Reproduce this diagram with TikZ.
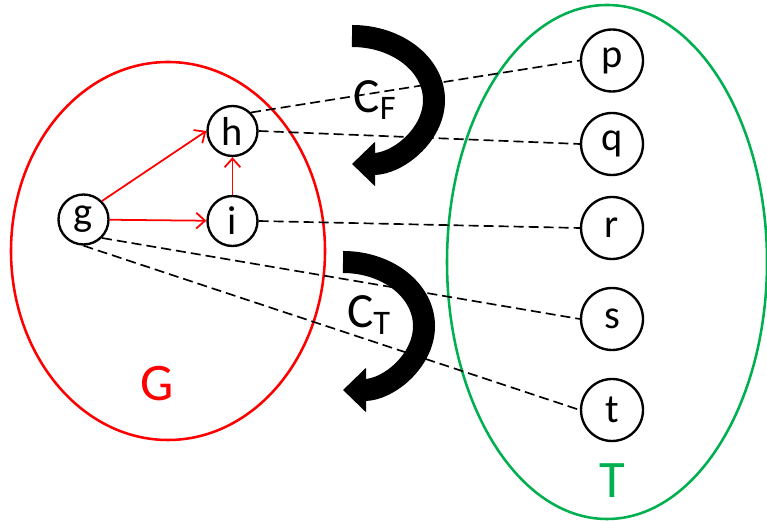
\documentclass[tikz,border=0pt]{standalone}
\usepackage{fontspec}
\setmainfont{Carlito}
\usetikzlibrary{arrows.meta}

\begin{document}
\begin{tikzpicture}[
    vtx/.style={circle, draw, line width=1.35pt, inner sep=0pt, minimum size=1.0cm, font=\fontsize{23}{23}\selectfont},
    bigvtx/.style={vtx, minimum size=1.24cm},
    dashline/.style={dashed, dash pattern=on 0.2cm off 0.1cm, line width=0.95pt},
    redarrow/.style={myRed, line width=1pt, -{Straight Barb[length=5pt,width=9pt]}},
    bigarrow/.style={line width=0.44cm, -{Triangle[length=0.46cm,width=0.86cm]}},
    setlabel/.style={font=\fontsize{30}{30}\selectfont}
]
% Colors define
\definecolor{myRed}{HTML}{FF0000}
\definecolor{myGreen}{HTML}{00B050}

\useasboundingbox (0,0) rectangle (15.34,10.4);

% The two sets
\draw[myRed, line width=1.45pt] (3.36,5.38) ellipse [x radius=3.14, y radius=3.78];
\draw[myGreen, line width=1.45pt] (12.14,5.16) ellipse [x radius=3.2, y radius=5.14];
\node[setlabel, myRed] (Glab) at (3.14,2.72) {G};
\node[setlabel, myGreen] (Tlab) at (12.24,0.78) {T};

% Vertices of G
\node[vtx] (g) at (1.67,6.01) {g};
\node[vtx] (h) at (4.65,7.78) {h};
\node[vtx] (i) at (4.65,5.98) {i};

% Vertices of T
\node[bigvtx] (p) at (12.24,9.19) {p};
\node[bigvtx] (q) at (12.24,7.52) {q};
\node[bigvtx] (r) at (12.24,5.84) {r};
\node[bigvtx] (s) at (12.24,4.02) {s};
\node[bigvtx] (t) at (12.24,2.20) {t};

% Edges of G
\draw[redarrow] (g.north east) -- (h.west);
\draw[redarrow] (g) -- (i);
\draw[redarrow] (i) -- (h);

% Mapping lines
\draw[dashline] (h.north east) -- (p.west);
\draw[dashline] (h.east) -- (q.west);
\draw[dashline] (i.east) -- (r.west);
\draw[dashline] (g.south east) -- (s.west);
\draw[dashline] (g.south) -- (t.west);

% Big curved arrows
\draw[bigarrow] (7.04,9.68) arc[start angle=90, end angle=-90, x radius=1.64, y radius=1.28];
\draw[bigarrow] (6.86,5.16) arc[start angle=90, end angle=-90, x radius=1.62, y radius=1.28];
\node[font=\fontsize{28}{28}\selectfont] (CF) at (7.5,8.4) {C\textsubscript{F}};
\node[font=\fontsize{28}{28}\selectfont] (CT) at (7.38,4.1) {C\textsubscript{T}};
\end{tikzpicture}
\end{document}
